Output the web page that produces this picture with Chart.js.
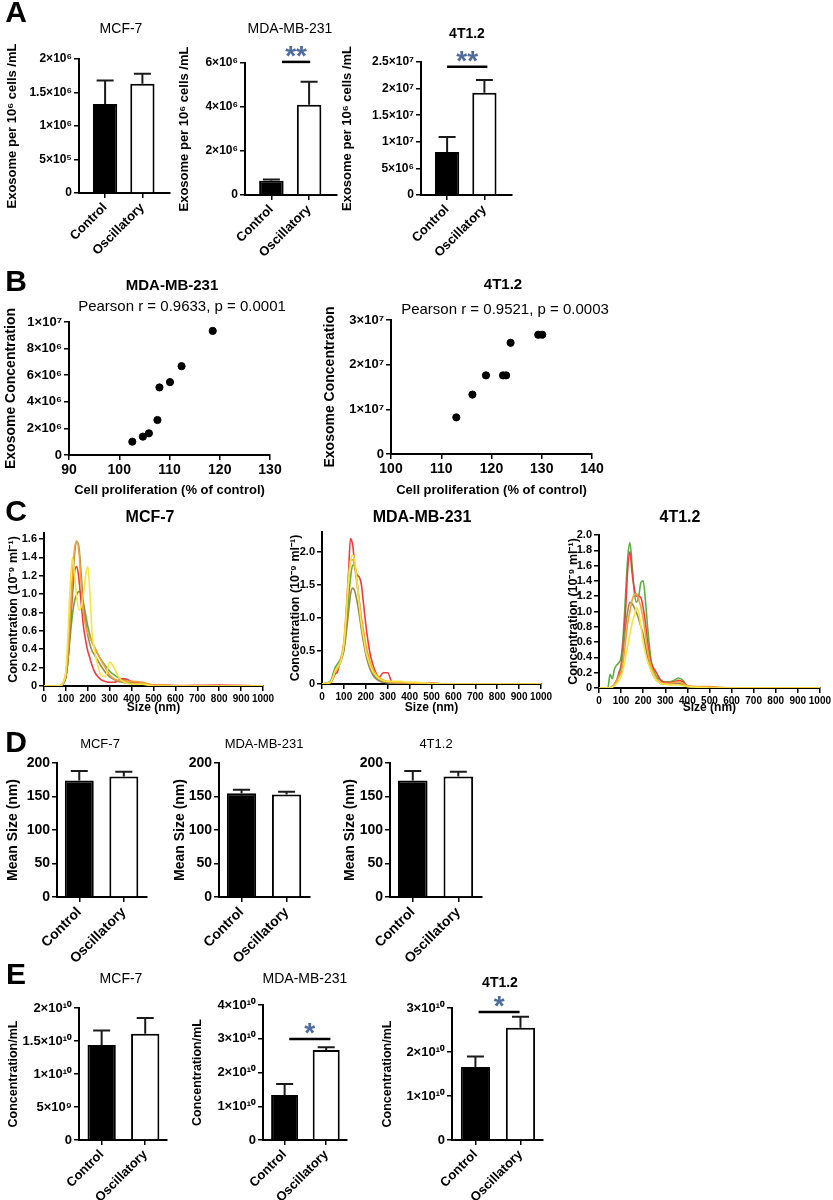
<!DOCTYPE html>
<html>
<head>
<meta charset="utf-8">
<title>Exosome figure</title>
<script src="https://cdn.jsdelivr.net/npm/chart.js"></script>
<style>
  body { margin:0; background:#fff; }
  #fig { position:relative; width:833px; height:1200px; overflow:hidden; background:#fff; font-family:"Liberation Sans", Arial, sans-serif; color:#000; }
  #fig canvas { position:absolute; }
  .lbl { position:absolute; transform:translate(-50%,-50%); white-space:nowrap; line-height:1; }
</style>
</head>
<body>
<div id="fig"></div>
<script>
// ---------- data ----------
var groups = ['Control', 'Oscillatory']

// A: exosomes per 10^6 cells
var a1Mean = [1.33e6, 1.63e6], a1Err = [0.35e6, 0.15e6]
var a2Mean = [0.65e6, 4.1e6],  a2Err = [0.05e6, 1.05e6]
var a3Mean = [8.1e6, 1.92e7],  a3Err = [2.8e6, 2.4e6]
var a1Ticks = [0, 5e5, 1e6, 1.5e6, 2e6], a1Labels = ['0', '5×10⁵', '1×10⁶', '1.5×10⁶', '2×10⁶']
var a2Ticks = [0, 2e6, 4e6, 6e6], a2Labels = ['0', '2×10⁶', '4×10⁶', '6×10⁶']
var a3Ticks = [0, 5e6, 1e7, 1.5e7, 2e7, 2.5e7], a3Labels = ['0', '5×10⁶', '1×10⁷', '1.5×10⁷', '2×10⁷', '2.5×10⁷']

// B: proliferation vs exosome concentration
var b1Prolif = [102.6, 104.7, 105.9, 107.6, 108.0, 110.1, 112.4, 118.6]
var b1Conc   = [1.0e6, 1.38e6, 1.63e6, 2.63e6, 5.08e6, 5.48e6, 6.68e6, 9.33e6]
var b2Prolif = [113.0, 116.2, 118.9, 122.3, 122.9, 123.8, 129.3, 130.1]
var b2Conc   = [8.2e6, 1.33e7, 1.76e7, 1.76e7, 1.76e7, 2.49e7, 2.67e7, 2.67e7]
var b1Ticks = [0, 2e6, 4e6, 6e6, 8e6, 1e7], b1Labels = ['0', '2×10⁶', '4×10⁶', '6×10⁶', '8×10⁶', '1×10⁷']
var b2Ticks = [0, 1e7, 2e7, 3e7], b2Labels = ['0', '1×10⁷', '2×10⁷', '3×10⁷']

// C: size distributions (nm -> concentration)
var cSizes = [0,40,50,60,70,80,90,100,110,120,130,140,150,160,170,180,190,200,210,220,230,240,260,280,300,320,340,360,380,400,450,500,550,600,800,1000]

var c1Yellow = [0,0,0,0,0,0.01,0.05,0.15,0.6,1.1,1.4,1.2,0.95,0.83,0.86,1.0,1.2,1.3,1.0,0.55,0.4,0.28,0.12,0.1,0.26,0.2,0.1,0.05,0.03,0.02,0.02,0,0,0,0,0]
var c1Orange = [0,0,0,0,0,0.01,0.05,0.15,0.4,0.8,1.2,1.5,1.58,1.45,1.1,0.8,0.65,0.58,0.52,0.48,0.43,0.38,0.28,0.2,0.12,0.08,0.06,0.06,0.05,0.05,0.04,0.01,0.01,0,0,0]
var c1Brown  = [0,0,0,0,0,0.01,0.04,0.1,0.3,0.7,1.1,1.45,1.57,1.5,1.2,0.9,0.7,0.55,0.45,0.38,0.34,0.3,0.22,0.15,0.1,0.07,0.05,0.04,0.03,0.03,0.02,0.01,0,0,0,0]
var c1Red    = [0,0,0,0,0,0.01,0.04,0.1,0.3,0.65,1.0,1.25,1.3,1.15,0.9,0.65,0.5,0.38,0.3,0.22,0.16,0.12,0.07,0.05,0.04,0.04,0.06,0.08,0.07,0.05,0.03,0.01,0.01,0.005,0.01,0]
var c1Green  = [0,0,0,0,0,0.01,0.03,0.1,0.3,0.55,0.78,0.93,1.0,1.03,1.0,0.9,0.78,0.65,0.55,0.47,0.42,0.37,0.29,0.22,0.16,0.12,0.09,0.07,0.05,0.04,0.02,0.01,0,0,0,0]

var c2Yellow = [0,0.03,0.1,0.2,0.25,0.3,0.4,0.6,1.0,1.5,1.85,1.95,1.85,1.55,1.2,0.9,0.7,0.5,0.38,0.28,0.2,0.15,0.08,0.05,0.04,0.04,0.04,0.04,0.03,0.03,0.02,0.01,0,0,0,0]
var c2Orange = [0,0.03,0.1,0.18,0.22,0.3,0.45,0.65,1.1,1.6,1.87,1.88,1.75,1.5,1.25,1.0,0.8,0.6,0.45,0.33,0.25,0.18,0.1,0.06,0.04,0.03,0.02,0.02,0.02,0.01,0.01,0,0,0,0,0]
var c2Brown  = [0,0.03,0.1,0.2,0.25,0.3,0.38,0.5,0.75,1.05,1.35,1.45,1.4,1.25,1.05,0.82,0.62,0.45,0.32,0.22,0.15,0.1,0.05,0.03,0.02,0.01,0.01,0,0,0,0,0,0,0,0,0]
var c2Red    = [0,0.02,0.08,0.15,0.18,0.3,0.4,0.6,1.0,1.6,2.2,2.1,1.8,1.65,1.62,1.5,1.2,0.9,0.65,0.45,0.32,0.22,0.1,0.17,0.17,0.02,0,0,0,0,0,0.02,0,0,0,0]
var c2Green  = [0,0.05,0.15,0.25,0.3,0.35,0.42,0.55,0.85,1.25,1.6,1.8,1.78,1.55,1.25,0.95,0.7,0.5,0.35,0.25,0.18,0.12,0.06,0.03,0.02,0.01,0.01,0.01,0,0,0,0,0,0,0,0]

var c3Yellow = [0,0,0,0.01,0.03,0.06,0.1,0.15,0.25,0.4,0.55,0.7,0.85,0.95,1.05,0.98,0.8,0.6,0.45,0.35,0.27,0.2,0.1,0.06,0.05,0.04,0.04,0.04,0.03,0.02,0.01,0,0,0,0,0]
var c3Orange = [0,0,0,0.02,0.05,0.1,0.15,0.2,0.35,0.6,0.85,1.0,1.15,1.22,1.23,1.15,1.05,0.9,0.7,0.5,0.35,0.25,0.12,0.07,0.06,0.06,0.07,0.08,0.06,0.03,0.02,0.02,0.01,0,0,0]
var c3Brown  = [0,0,0,0.02,0.05,0.1,0.17,0.25,0.5,0.8,1.0,1.12,1.1,1.05,0.98,0.9,0.8,0.7,0.55,0.4,0.28,0.2,0.1,0.06,0.05,0.05,0.06,0.06,0.04,0.02,0.01,0,0,0,0,0]
var c3Red    = [0,0,0,0.02,0.05,0.1,0.2,0.3,0.6,1.0,1.55,1.78,1.5,1.3,1.2,1.2,1.18,1.05,0.85,0.6,0.4,0.3,0.2,0.1,0.07,0.07,0.08,0.1,0.08,0.03,0.01,0.01,0,0,0,0]
var c3Green  = [0,0,0.18,0.12,0.25,0.3,0.33,0.4,0.7,1.2,1.7,1.9,1.6,1.25,1.12,1.2,1.38,1.4,1.15,0.8,0.5,0.3,0.15,0.1,0.08,0.08,0.1,0.13,0.1,0.02,0.01,0,0,0,0,0]

var c1Ticks = [0,0.2,0.4,0.6,0.8,1.0,1.2,1.4,1.6], c1Labels = ['0','0.2','0.4','0.6','0.8','1.0','1.2','1.4','1.6']
var c2Ticks = [0,0.5,1.0,1.5,2.0], c2Labels = ['0','0.5','1.0','1.5','2.0']
var c3Ticks = [0,0.2,0.4,0.6,0.8,1.0,1.2,1.4,1.6,1.8,2.0], c3Labels = ['0','0.2','0.4','0.6','0.8','1.0','1.2','1.4','1.6','1.8','2.0']

// D: mean size (nm)
var d1Mean = [174, 180], d1Err = [14, 7]
var d2Mean = [155, 153], d2Err = [5, 4]
var d3Mean = [174, 180], d3Err = [14, 7]
var dTicks = [0, 50, 100, 150, 200], dLabels = ['0', '50', '100', '150', '200']

// E: concentration per mL
var e1Mean = [1.44e10, 1.61e10], e1Err = [0.22e10, 0.24e10]
var e2Mean = [1.33e10, 2.67e10], e2Err = [0.33e10, 0.08e10]
var e3Mean = [1.66e10, 2.55e10], e3Err = [0.24e10, 0.25e10]
var e1Ticks = [0, 5e9, 1e10, 1.5e10, 2e10], e1Labels = ['0', '5×10⁹', '1×10¹⁰', '1.5×10¹⁰', '2×10¹⁰']
var e2Ticks = [0, 1e10, 2e10, 3e10, 4e10], e2Labels = ['0', '1×10¹⁰', '2×10¹⁰', '3×10¹⁰', '4×10¹⁰']
var e3Ticks = [0, 1e10, 2e10, 3e10], e3Labels = ['0', '1×10¹⁰', '2×10¹⁰', '3×10¹⁰']

// ---------- drawing ----------
var fig = document.getElementById('fig')
Chart.defaults.font.family = '"Liberation Sans", Arial, sans-serif'
Chart.defaults.color = '#000'

function addText(txt, x, y, size, weight) {
  var d = document.createElement('div')
  d.className = 'lbl'
  d.textContent = txt
  d.style.left = x + 'px'
  d.style.top = y + 'px'
  d.style.fontSize = size + 'px'
  d.style.fontWeight = weight
  fig.appendChild(d)
}

// upward error bars for the bar charts
var errPlugin = {
  id: 'errbars',
  afterDatasetsDraw: function(chart) {
    var ctx = chart.ctx, ys = chart.scales.y
    chart.data.datasets.forEach(function(ds, di) {
      if (!ds.errors) return
      chart.getDatasetMeta(di).data.forEach(function(bar, i) {
        var v = ds.data[i].y
        var y0 = ys.getPixelForValue(v), y1 = ys.getPixelForValue(v + ds.errors[i])
        ctx.save()
        ctx.strokeStyle = '#1a1a1a'
        ctx.lineWidth = 2
        ctx.beginPath()
        ctx.moveTo(bar.x, y0); ctx.lineTo(bar.x, y1)
        ctx.moveTo(bar.x - 8.5, y1); ctx.lineTo(bar.x + 8.5, y1)
        ctx.stroke()
        ctx.restore()
      })
    })
  }
}

function sigPlugin(sig) {
  return {
    id: 'sig',
    afterDraw: function(chart) {
      var ctx = chart.ctx, xs = chart.scales.x, ys = chart.scales.y
      var x1 = xs.getPixelForValue(sig.from), x2 = xs.getPixelForValue(sig.to), y = ys.getPixelForValue(sig.at)
      ctx.save()
      ctx.strokeStyle = '#000'
      ctx.lineWidth = 2.5
      ctx.beginPath(); ctx.moveTo(x1, y); ctx.lineTo(x2, y); ctx.stroke()
      ctx.fillStyle = '#4f6c9e'
      ctx.font = 'bold 28px "Liberation Sans", Arial, sans-serif'
      ctx.textAlign = 'center'
      ctx.textBaseline = 'alphabetic'
      ctx.fillText(sig.text, (x1 + x2) / 2, y + 10 - 7)
      ctx.restore()
    }
  }
}

function axisBase(tickSize) {
  return {
    grid: { display: true, drawOnChartArea: false, drawTicks: true, tickLength: 5, color: '#000', lineWidth: 1.5, offset: false },
    border: { display: true, color: '#000', width: 2 },
    ticks: { color: '#000', font: { weight: 'bold', size: tickSize }, padding: 2, autoSkip: false }
  }
}

// p.area = [left, top, right, bottom] of the plot box on the page
function drawChart(p) {
  var yfs = p.yTitleSize || 12
  var left = Math.round(p.yTitleX - yfs * 0.6)
  var top = p.area[1] - 32
  var right = Math.min(833, p.area[2] + 14)
  var bottom = p.xTitle ? Math.round(p.xTitleY + (p.xTitleSize || 12) * 0.6) : p.area[3] + 72
  var cv = document.createElement('canvas')
  cv.width = right - left
  cv.height = bottom - top
  cv.style.left = left + 'px'
  cv.style.top = top + 'px'
  fig.appendChild(cv)

  var yW = p.area[0] - left
  var xH = bottom - p.area[3]

  var y = axisBase(p.yTickSize || 12)
  y.type = 'linear'
  y.min = 0
  y.max = p.yMax
  y.afterBuildTicks = function(s) { s.ticks = p.yTicks.map(function(v) { return { value: v } }) }
  y.ticks.callback = function(v, i) { return p.yLabels[i] }
  y.afterFit = function(s) { s.width = yW }
  y.title = { display: true, text: p.yTitle, color: '#000', padding: 0, font: { weight: 'bold', size: yfs } }

  var x = axisBase(p.xTickSize || 12)
  x.type = 'linear'
  x.offset = false
  x.min = p.xMin
  x.max = p.xMax
  x.afterFit = function(s) { s.height = xH }
  if (p.kind == 'bar') {
    x.afterBuildTicks = function(s) { s.ticks = groups.map(function(g, i) { return { value: i } }) }
    x.ticks.callback = function(v, i) { return groups[i] }
    x.ticks.minRotation = 45
    x.ticks.maxRotation = 45
  } else {
    x.ticks.stepSize = p.xStep
    x.ticks.maxRotation = 0
    x.ticks.minRotation = 0
    x.ticks.callback = function(v) { return String(v) }
  }
  if (p.xTitle) {
    x.title = { display: true, text: p.xTitle, color: '#000', padding: 0, font: { weight: 'bold', size: p.xTitleSize || 12 } }
  }

  var type, datasets
  if (p.kind == 'bar') {
    type = 'bar'
    datasets = [{
      data: groups.map(function(g, i) { return { x: i, y: p.means[i] } }),
      errors: p.errs,
      backgroundColor: ['#000', '#fff'],
      borderColor: '#000',
      borderWidth: 2,
      barPercentage: 0.65,
      categoryPercentage: 1
    }]
  } else if (p.kind == 'scatter') {
    type = 'scatter'
    datasets = [{
      data: p.xs.map(function(v, i) { return { x: v, y: p.ys[i] } }),
      backgroundColor: '#000',
      borderColor: '#000',
      pointRadius: 3.6
    }]
  } else {
    type = 'line'
    datasets = p.series.map(function(s) {
      return {
        data: cSizes.map(function(v, i) { return { x: v, y: s.vals[i] } }),
        borderColor: s.color,
        borderWidth: 1.6,
        pointRadius: 0,
        fill: false,
        cubicInterpolationMode: 'monotone'
      }
    })
  }

  var plugins = [errPlugin]
  if (p.sig) plugins.push(sigPlugin(p.sig))

  return new Chart(cv, {
    type: type,
    data: { datasets: datasets },
    options: {
      responsive: false,
      animation: false,
      devicePixelRatio: 1,
      layout: { autoPadding: false, padding: { left: 0, top: p.area[1] - top, right: right - p.area[2], bottom: 0 } },
      plugins: { legend: { display: false }, tooltip: { enabled: false } },
      scales: { x: x, y: y }
    },
    plugins: plugins
  })
}

var exoTitle = 'Exosome per 10⁶ cells /mL'
var cTitle = 'Concentration (10⁻⁹ ml⁻¹)'
var red = '#f03c3c', orange = '#f5a03a', yellow = '#f7e43c', green = '#5cb040', brown = '#9c8a4c'

// panel A
drawChart({ kind: 'bar', area: [79, 59, 170, 193], yTitleX: 13, yTitleSize: 13, yTitle: exoTitle, means: a1Mean, errs: a1Err,
  xMin: -0.7, xMax: 1.74, yMax: 2e6, yTicks: a1Ticks, yLabels: a1Labels, xTickSize: 13 })
drawChart({ kind: 'bar', area: [245, 63, 337, 195], yTitleX: 185, yTitleSize: 13, yTitle: exoTitle, means: a2Mean, errs: a2Err,
  xMin: -0.7, xMax: 1.74, yMax: 6e6, yTicks: a2Ticks, yLabels: a2Labels, xTickSize: 13,
  sig: { from: 0.28, to: 1.03, at: 6.05e6, text: '**' } })
drawChart({ kind: 'bar', area: [421, 62, 512, 195], yTitleX: 348, yTitleSize: 13, yTitle: exoTitle, means: a3Mean, errs: a3Err,
  xMin: -0.7, xMax: 1.74, yMax: 2.5e7, yTicks: a3Ticks, yLabels: a3Labels, xTickSize: 13,
  sig: { from: 0, to: 1.08, at: 2.41e7, text: '**' } })

// panel B
drawChart({ kind: 'scatter', area: [69, 322, 270, 455], yTitleX: 11, yTitleSize: 14, yTitle: 'Exosome Concentration',
  xs: b1Prolif, ys: b1Conc, xMin: 90, xMax: 130, xStep: 10, yMax: 1e7, yTicks: b1Ticks, yLabels: b1Labels,
  yTickSize: 13, xTickSize: 14, xTitle: 'Cell proliferation (% of control)', xTitleY: 490, xTitleSize: 13 })
drawChart({ kind: 'scatter', area: [391, 320, 592, 454], yTitleX: 330, yTitleSize: 14, yTitle: 'Exosome Concentration',
  xs: b2Prolif, ys: b2Conc, xMin: 100, xMax: 140, xStep: 10, yMax: 3e7, yTicks: b2Ticks, yLabels: b2Labels,
  yTickSize: 13, xTickSize: 14, xTitle: 'Cell proliferation (% of control)', xTitleY: 490, xTitleSize: 13 })

// panel C
drawChart({ kind: 'line', area: [44, 533, 263, 686], yTitleX: 13, yTitleSize: 12.5, yTitle: cTitle,
  series: [{ vals: c1Yellow, color: yellow }, { vals: c1Orange, color: orange }, { vals: c1Brown, color: brown },
           { vals: c1Red, color: red }, { vals: c1Green, color: green }],
  xMin: 0, xMax: 1000, xStep: 100, yMax: 1.665, yTicks: c1Ticks, yLabels: c1Labels,
  yTickSize: 11, xTickSize: 10, xTitle: 'Size (nm)', xTitleY: 708, xTitleSize: 12 })
drawChart({ kind: 'line', area: [322, 532, 541, 684], yTitleX: 295, yTitleSize: 12.5, yTitle: cTitle,
  series: [{ vals: c2Yellow, color: yellow }, { vals: c2Orange, color: orange }, { vals: c2Brown, color: brown },
           { vals: c2Red, color: red }, { vals: c2Green, color: green }],
  xMin: 0, xMax: 1000, xStep: 100, yMax: 2.3, yTicks: c2Ticks, yLabels: c2Labels,
  yTickSize: 11, xTickSize: 10, xTitle: 'Size (nm)', xTitleY: 708, xTitleSize: 12 })
drawChart({ kind: 'line', area: [599, 535, 823, 688], yTitleX: 573, yTitleSize: 12.5, yTitle: cTitle,
  series: [{ vals: c3Yellow, color: yellow }, { vals: c3Orange, color: orange }, { vals: c3Brown, color: brown },
           { vals: c3Red, color: red }, { vals: c3Green, color: green }],
  xMin: 0, xMax: 1000, xStep: 100, yMax: 2.0, yTicks: c3Ticks, yLabels: c3Labels,
  yTickSize: 11, xTickSize: 10, xTitle: 'Size (nm)', xTitleY: 708, xTitleSize: 12 })

// panel D
drawChart({ kind: 'bar', area: [57, 763, 147, 897], yTitleX: 13, yTitleSize: 14, yTitle: 'Mean Size (nm)', means: d1Mean, errs: d1Err,
  xMin: -0.5, xMax: 1.52, yMax: 200, yTicks: dTicks, yLabels: dLabels, yTickSize: 14, xTickSize: 14 })
drawChart({ kind: 'bar', area: [219, 763, 310, 897], yTitleX: 180, yTitleSize: 14, yTitle: 'Mean Size (nm)', means: d2Mean, errs: d2Err,
  xMin: -0.5, xMax: 1.52, yMax: 200, yTicks: dTicks, yLabels: dLabels, yTickSize: 14, xTickSize: 14 })
drawChart({ kind: 'bar', area: [390, 763, 482, 897], yTitleX: 350, yTitleSize: 14, yTitle: 'Mean Size (nm)', means: d3Mean, errs: d3Err,
  xMin: -0.5, xMax: 1.52, yMax: 200, yTicks: dTicks, yLabels: dLabels, yTickSize: 14, xTickSize: 14 })

// panel E
drawChart({ kind: 'bar', area: [79, 1008, 167, 1140], yTitleX: 13, yTitleSize: 12.5, yTitle: 'Concentration/mL', means: e1Mean, errs: e1Err,
  xMin: -0.52, xMax: 1.5, yMax: 2e10, yTicks: e1Ticks, yLabels: e1Labels, yTickSize: 13, xTickSize: 13 })
drawChart({ kind: 'bar', area: [263, 1005, 347, 1140], yTitleX: 197, yTitleSize: 12.5, yTitle: 'Concentration/mL', means: e2Mean, errs: e2Err,
  xMin: -0.52, xMax: 1.5, yMax: 4e10, yTicks: e2Ticks, yLabels: e2Labels, yTickSize: 13, xTickSize: 13,
  sig: { from: 0.11, to: 1.1, at: 2.99e10, text: '*' } })
drawChart({ kind: 'bar', area: [452, 1008, 543, 1140], yTitleX: 387, yTitleSize: 12.5, yTitle: 'Concentration/mL', means: e3Mean, errs: e3Err,
  xMin: -0.52, xMax: 1.5, yMax: 3e10, yTicks: e3Ticks, yLabels: e3Labels, yTickSize: 13, xTickSize: 13,
  sig: { from: 0.07, to: 0.98, at: 2.91e10, text: '*' } })

// panel letters and titles
addText('A', 16, 12, 30, 'bold')
addText('MCF-7', 121, 28, 14, 'normal')
addText('MDA-MB-231', 290, 28, 14, 'normal')
addText('4T1.2', 467, 33, 14, 'bold')

addText('B', 16, 281, 30, 'bold')
addText('MDA-MB-231', 172, 284, 15, 'bold')
addText('Pearson r = 0.9633, p = 0.0001', 182, 305, 15, 'normal')
addText('4T1.2', 503, 283, 15, 'bold')
addText('Pearson r = 0.9521, p = 0.0003', 505, 308, 15, 'normal')

addText('C', 16, 511, 30, 'bold')
addText('MCF-7', 150, 517, 16, 'bold')
addText('MDA-MB-231', 422, 517, 16, 'bold')
addText('4T1.2', 680, 517, 16, 'bold')

addText('D', 16, 742, 30, 'bold')
addText('MCF-7', 100, 743, 13, 'normal')
addText('MDA-MB-231', 264, 743, 13, 'normal')
addText('4T1.2', 436, 743, 13, 'normal')

addText('E', 16, 974, 30, 'bold')
addText('MCF-7', 121, 978, 14, 'normal')
addText('MDA-MB-231', 305, 978, 14, 'normal')
addText('4T1.2', 500, 982, 14, 'bold')
</script>
</body>
</html>
